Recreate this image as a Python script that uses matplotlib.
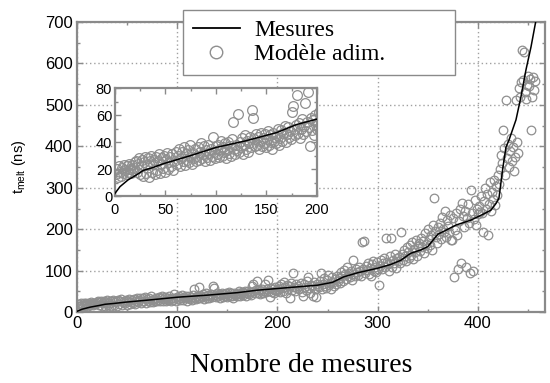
"""Temps de fusion mesurés et modèle adimensionnel, avec encart sur les 200 premières mesures."""

import matplotlib

matplotlib.use("Agg")

import matplotlib.pyplot as plt
import numpy as np
from matplotlib.lines import Line2D
from matplotlib.ticker import MultipleLocator

MES_X = [0, 5, 13, 22, 28, 37, 48, 75, 100, 130, 160, 180, 200, 220, 240, 255, 266, 280,
         300, 313, 323, 333, 343, 350, 360, 366, 378, 393, 405, 413, 418, 421, 425, 428,
         431, 438, 443, 448, 453, 458]
MES_Y = [2, 7, 12, 16, 19, 21, 24, 30, 36, 41, 47, 53, 57, 61, 65, 72, 85, 95,
         106, 115, 125, 142, 150, 158, 188, 195, 210, 222, 236, 246, 262, 275, 350, 398,
         415, 464, 520, 585, 640, 705]

# modèle adimensionnel, une valeur par mesure
MODELE = [
    16, 20, 14, 22, 18, 15, 21, 17, 23, 19, 16, 22, 18, 24, 20, 17, 23, 19, 21, 25,
    26, 18, 24, 28, 16, 22, 27, 15, 25, 29, 17, 23, 28, 14, 26, 30, 18, 24, 27, 16,
    29, 19, 26, 31, 17, 24, 28, 21, 30, 18, 27, 32, 20, 25, 29, 22, 31, 19, 26, 33,
    24, 30, 35, 22, 28, 33, 26, 36, 23, 31, 27, 34, 25, 38, 29, 24, 32, 28, 35, 26,
    30, 36, 27, 33, 39, 28, 31, 37, 26, 34, 29, 38, 32, 27, 35, 30, 44, 33, 28, 37,
    31, 38, 29, 35, 41, 30, 36, 33, 39, 28, 34, 40, 32, 37, 30, 42, 55, 35, 31, 38,
    34, 61, 33, 40, 36, 43, 31, 38, 45, 35, 41, 33, 39, 44, 36, 64, 58, 42, 37, 46,
    38, 44, 35, 41, 47, 37, 43, 39, 46, 36, 42, 48, 38, 45, 40, 35, 47, 41, 44, 39,
    45, 50, 38, 43, 49, 41, 47, 52, 40, 46, 51, 44, 48, 42, 62, 67, 50, 45, 53, 75,
    47, 54, 43, 50, 57, 46, 52, 69, 48, 55, 77, 51, 37, 58, 49, 56, 45, 60, 53, 50,
    55, 62, 48, 68, 58, 52, 72, 60, 45, 66, 57, 63, 34, 70, 54, 94, 61, 50, 67, 59,
    64, 56, 71, 49, 38, 68, 60, 53, 75, 85, 58, 47, 66, 62, 40, 72, 55, 36, 69, 63,
    60, 74, 94, 55, 68, 82, 63, 58, 77, 90, 66, 71, 56, 85, 73, 62, 79, 68, 88, 75,
    83, 70, 96, 88, 76, 102, 91, 80, 110, 87, 95, 84, 100, 78, 125, 92, 86, 105, 97, 90,
    108, 99, 88, 170, 104, 172, 95, 112, 101, 118, 93, 107, 86, 115, 124, 100, 110, 97, 120, 105,
    65, 112, 125, 103, 118, 130, 108, 180, 121, 115, 99, 135, 180, 110, 127, 119, 140, 106, 131, 124,
    133, 118, 193, 140, 127, 150, 136, 123, 158, 145, 131, 162, 139, 170, 128, 152, 144, 175, 135, 160,
    166, 148, 180, 158, 172, 142, 190, 165, 155, 200, 176, 161, 185, 150, 210, 275, 195, 182, 168, 205,
    188, 215, 176, 230, 200, 194, 245, 182, 222, 208, 190, 235, 175, 174, 228, 85, 198, 240, 186, 105,
    220, 250, 118, 263, 232, 205, 245, 110, 228, 260, 215, 95, 295, 238, 100, 225, 270, 210, 248, 236,
    255, 242, 280, 238, 193, 268, 300, 250, 285, 186, 262, 315, 245, 290, 272, 320, 258, 305, 282, 330,
    310, 345, 380, 360, 440, 395, 330, 512, 372, 405, 350, 388, 420, 365, 398, 340, 375, 512, 410, 385,
    540, 520, 555, 633, 560, 628, 530, 515, 548, 570, 545, 562, 440, 520, 568, 535, 558,
]

FRAME = "#8a8a8a"
CIRCLE = "#8f8f8f"


def style_axes(ax, tick_size):
    for spine in ax.spines.values():
        spine.set_color(FRAME)
        spine.set_linewidth(1.6)
    ax.tick_params(which="both", direction="in", top=True, right=True, color=FRAME,
                   labelsize=tick_size, pad=3)
    ax.tick_params(which="major", length=4, width=1)
    ax.tick_params(which="minor", length=2.5, width=1)


def draw(ax, marker_size):
    idx = np.arange(1, len(MODELE) + 1)
    ax.plot(idx, MODELE, linestyle="none", marker="o", markersize=marker_size,
            markerfacecolor="none", markeredgecolor=CIRCLE, markeredgewidth=0.9, zorder=2)
    ax.plot(MES_X, MES_Y, color="black", linewidth=1.1, zorder=3)


def main():
    plt.rcParams["font.family"] = ["Liberation Sans", "DejaVu Sans"]
    fig = plt.figure(figsize=(5.5, 3.83), dpi=100)

    ax = fig.add_axes([0.14, 0.185, 0.851, 0.7576])
    draw(ax, 6.2)
    ax.set_xlim(0, 467)
    ax.set_ylim(0, 700)
    ax.xaxis.set_major_locator(MultipleLocator(100))
    ax.xaxis.set_minor_locator(MultipleLocator(50))
    ax.yaxis.set_major_locator(MultipleLocator(100))
    ax.yaxis.set_minor_locator(MultipleLocator(50))
    ax.grid(which="major", color="#a0a0a0", linestyle=(0, (1, 2)), linewidth=1)
    style_axes(ax, 12)
    ax.set_ylabel(r"$\mathregular{t_{melt}}$ (ns)", fontsize=10.5, labelpad=12)
    ax.set_xlabel("Nombre de mesures", family="Liberation Serif", fontsize=20)
    ax.xaxis.set_label_coords(0.479, -0.14)

    handles = [
        Line2D([], [], color="black", linewidth=1.3),
        Line2D([], [], linestyle="none", marker="o", markersize=9, markerfacecolor="none",
               markeredgecolor=CIRCLE, markeredgewidth=1),
    ]
    leg = ax.legend(handles, ["Mesures", "Modèle adim."], loc="upper left",
                    bbox_to_anchor=(0.333, 0.974, 0.494, 0.0), bbox_transform=fig.transFigure,
                    mode="expand", prop={"family": "Liberation Serif", "size": 17},
                    frameon=True, fancybox=False, framealpha=1, edgecolor=FRAME,
                    borderaxespad=0, handlelength=2.0, handletextpad=0.6, borderpad=0.4,
                    labelspacing=0.12)
    leg.get_frame().set_linewidth(1.0)

    inset = fig.add_axes([0.209, 0.488, 0.367, 0.282])
    draw(inset, 7)
    inset.set_xlim(0, 200)
    inset.set_ylim(0, 80)
    inset.xaxis.set_major_locator(MultipleLocator(50))
    inset.xaxis.set_minor_locator(MultipleLocator(25))
    inset.yaxis.set_major_locator(MultipleLocator(20))
    inset.yaxis.set_minor_locator(MultipleLocator(10))
    style_axes(inset, 10.5)
    inset.tick_params(axis="x", pad=5)
    inset.tick_params(axis="y", pad=2)

    fig.savefig("out.png", dpi=100)
    plt.close(fig)


if __name__ == "__main__":
    main()
